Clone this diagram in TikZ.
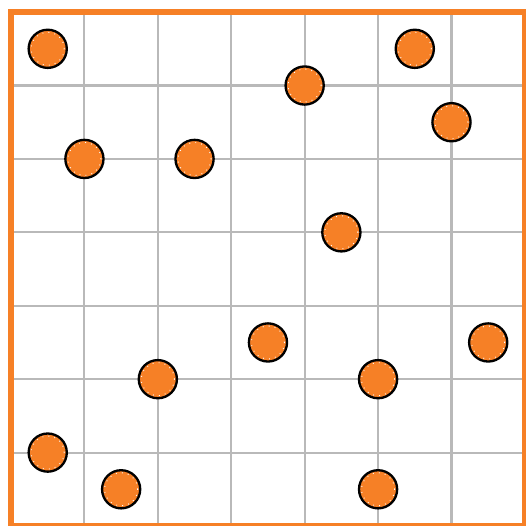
\documentclass[tikz,border=0pt]{standalone}
\usepackage{tikz}
\usepackage{xcolor}
\definecolor{dotorange}{RGB}{246,128,38}
\definecolor{gridgray}{RGB}{185,185,185}
\tikzset{
    gridline/.style={draw=gridgray, line width=0.8pt},
    frame/.style={draw=dotorange, line width=2.3pt},
    ball/.style={circle, draw=black, fill=dotorange, line width=0.9pt, minimum size=0.52cm, inner sep=0pt},
    ring/.style={draw=white, line width=0.35pt, dotted}
}

\begin{document}
\begin{tikzpicture}
    \useasboundingbox (-0.15,0) rectangle (7.014,7.165);
    % grid
    \foreach \k in {1,...,6} {
        \draw[gridline] (\k,0) -- (\k,7);
        \draw[gridline] (0,\k) -- (7,\k);
    }
    \draw[frame] (0,0) rectangle (7,7);
    % dots
    \foreach \x/\y [count=\i] in {0.5/6.5, 5.5/6.5, 4/6, 6/5.5, 1/5, 2.5/5, 4.5/4,
        3.5/2.5, 6.5/2.5, 2/2, 5/2, 0.5/1, 1.5/0.5, 5/0.5} {
        \node[ball] (p\i) at (\x,\y) {};
        \draw[ring] (p\i.center) circle (0.225);
    }
\end{tikzpicture}
\end{document}
